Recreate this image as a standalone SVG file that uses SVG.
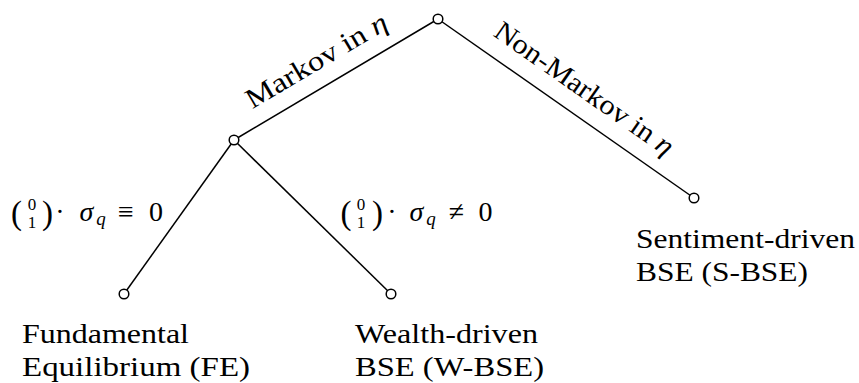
<svg xmlns="http://www.w3.org/2000/svg" width="859" height="383" viewBox="0 0 859 383" font-family="Liberation Serif, serif">
<style>
.t{font-size:28px}
.it{font-style:italic}
.node{fill:#fff;stroke:#000;stroke-width:1.5}
.edge{stroke:#000;stroke-width:1.5;fill:none}
</style>
<rect width="859" height="383" fill="#fff"/>
<g id="connectors">
<line class="edge" x1="438" y1="19" x2="234" y2="140"/>
<line class="edge" x1="438" y1="19" x2="694" y2="198"/>
<line class="edge" x1="234" y1="140" x2="124" y2="294"/>
<line class="edge" x1="234" y1="140" x2="391" y2="294"/>
<text class="t" text-anchor="middle" textLength="160" lengthAdjust="spacingAndGlyphs" transform="translate(321,68.5) rotate(-30.67)">Markov in <tspan class="it">η</tspan></text>
<text class="t" text-anchor="middle" textLength="212" lengthAdjust="spacingAndGlyphs" transform="translate(579,96) rotate(34.96)">Non-Markov in <tspan class="it">η</tspan></text>
<g id="label-fe-cond">
<text font-size="33" text-anchor="middle" x="16.5" y="224">(</text>
<text font-size="17" text-anchor="middle" x="32" y="210">0</text>
<text font-size="17" text-anchor="middle" x="32" y="228">1</text>
<text font-size="33" text-anchor="middle" x="47.5" y="224">)</text>
<text class="t" text-anchor="middle" x="60" y="221">·</text>
<text class="t it" text-anchor="middle" x="86.5" y="221">σ</text>
<text class="it" font-size="19" text-anchor="middle" x="101" y="225">q</text>
<text class="t" text-anchor="middle" x="126" y="221">≡</text>
<text class="t" text-anchor="middle" x="156" y="221">0</text>
</g>
<g id="label-w-cond">
<text font-size="33" text-anchor="middle" x="346" y="224">(</text>
<text font-size="17" text-anchor="middle" x="361" y="210">0</text>
<text font-size="17" text-anchor="middle" x="361" y="228">1</text>
<text font-size="33" text-anchor="middle" x="377.5" y="224">)</text>
<text class="t" text-anchor="middle" x="392" y="221">·</text>
<text class="t it" text-anchor="middle" x="416.5" y="221">σ</text>
<text class="it" font-size="19" text-anchor="middle" x="431" y="225">q</text>
<text class="t" text-anchor="middle" x="456.5" y="221">≠</text>
<text class="t" text-anchor="middle" x="485.5" y="221">0</text>
</g>
</g>
<g id="root"><circle class="node" cx="438" cy="19" r="4.8"/></g>
<g id="markov"><circle class="node" cx="234" cy="140" r="4.8"/></g>
<g id="fe">
<circle class="node" cx="124" cy="294" r="4.8"/>
<text class="t" x="22" y="343" textLength="167" lengthAdjust="spacingAndGlyphs">Fundamental</text>
<text class="t" x="22" y="376" textLength="228" lengthAdjust="spacingAndGlyphs">Equilibrium (FE)</text>
</g>
<g id="wbse">
<circle class="node" cx="391" cy="294" r="4.8"/>
<text class="t" x="355" y="343" textLength="183" lengthAdjust="spacingAndGlyphs">Wealth-driven</text>
<text class="t" x="355" y="376" textLength="189" lengthAdjust="spacingAndGlyphs">BSE (W-BSE)</text>
</g>
<g id="sbse">
<circle class="node" cx="694" cy="198" r="4.8"/>
<text class="t" x="636" y="248" textLength="219" lengthAdjust="spacingAndGlyphs">Sentiment-driven</text>
<text class="t" x="636" y="281" textLength="172" lengthAdjust="spacingAndGlyphs">BSE (S-BSE)</text>
</g>
</svg>
